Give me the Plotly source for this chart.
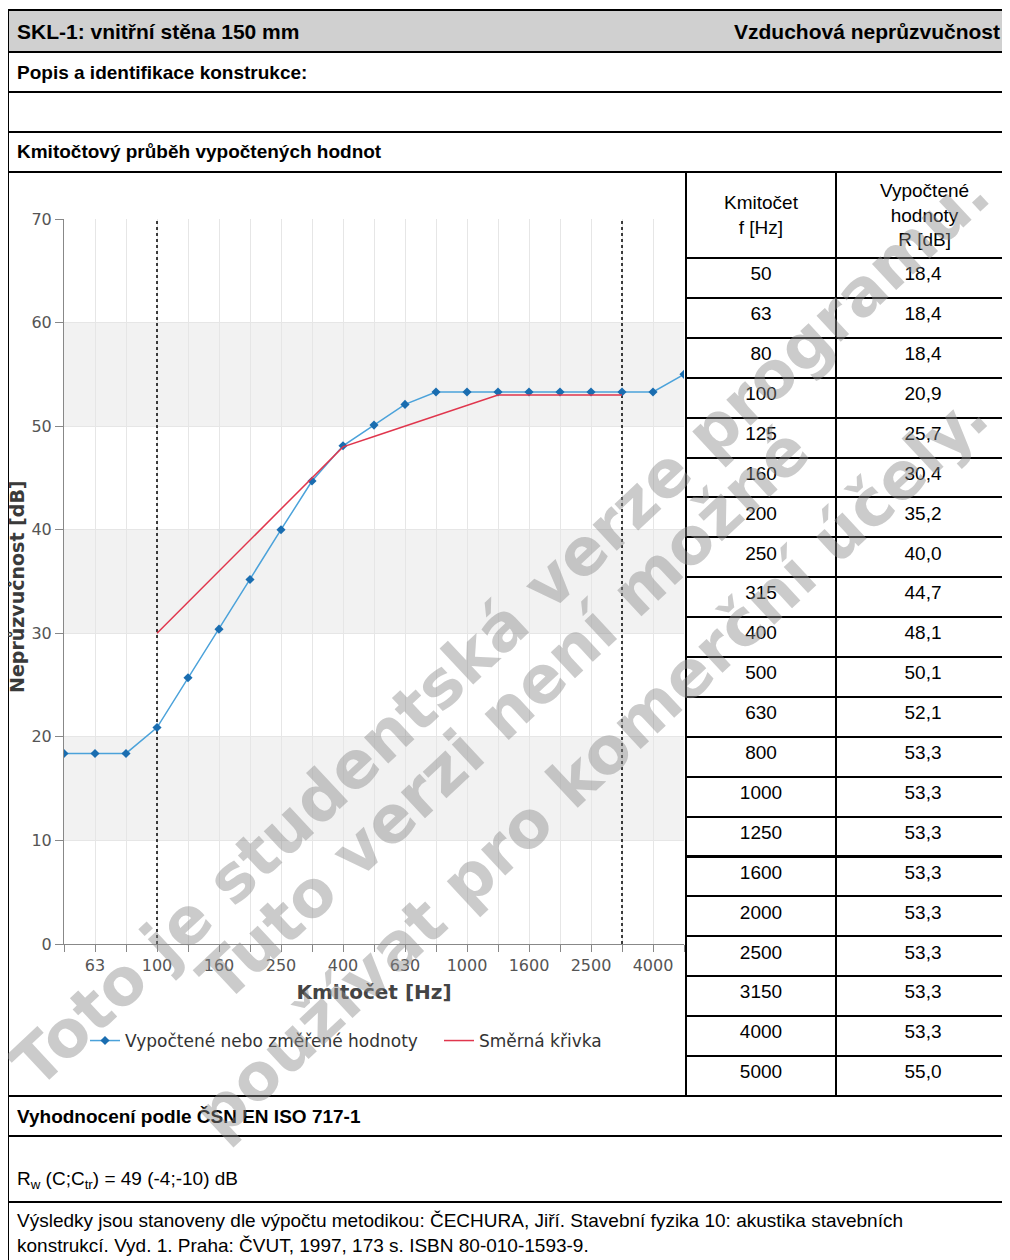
import plotly.graph_objects as go

# frequency bands and computed sound reduction index
FREQ_HZ = ['50', '63', '80', '100', '125', '160', '200', '250', '315', '400', '500',
           '630', '800', '1000', '1250', '1600', '2000', '2500', '3150', '4000', '5000']
R_DB = [18.4, 18.4, 18.4, 20.9, 25.7, 30.4, 35.2, 40.0, 44.7, 48.1, 50.1,
        52.1, 53.3, 53.3, 53.3, 53.3, 53.3, 53.3, 53.3, 53.3, 55.0]
# shifted reference curve (ISO 717-1), 100 - 3150 Hz
REF_FREQ_HZ = ['100', '125', '160', '200', '250', '315', '400', '500',
               '630', '800', '1000', '1250', '1600', '2000', '2500', '3150']
REF_DB = [30, 33, 36, 39, 42, 45, 48, 49, 50, 51, 52, 53, 53, 53, 53, 53]
LIMIT_FREQ_HZ = ['100', '3150']
X_TICK_LABELS = ['63', '100', '160', '250', '400', '630', '1000', '1600', '2500', '4000']
Y_TICKS = [0, 10, 20, 30, 40, 50, 60, 70]
RW, C, CTR = 49, -4, -10

# the page body keeps its default 8px margin, so the figure sits at (8, 8) in the window
W, H = 1002, 1252
OFF = 8
ARIAL = 'Liberation Sans, Arial, sans-serif'
DEJAVU = 'DejaVu Sans, Verdana, sans-serif'


def px(x):
    # window pixel -> paper fraction
    return (x - OFF) / W


def py(y):
    return 1 - (y - OFF) / H


fig = go.Figure()

# dotted limits of the evaluated range
for f in LIMIT_FREQ_HZ:
    fig.add_trace(go.Scatter(
        x=[f, f], y=[Y_TICKS[0], Y_TICKS[-1]], mode='lines',
        line=dict(color='black', dash='dot', width=1.5),
        showlegend=False, hoverinfo='skip'))

fig.add_trace(go.Scatter(
    x=FREQ_HZ, y=R_DB, mode='lines+markers',
    name='Vypočtené nebo změřené hodnoty',
    line=dict(color='#4ba2da', width=1.5),
    marker=dict(symbol='diamond', size=7, color='#1a6db0'),
))
fig.add_trace(go.Scatter(
    x=REF_FREQ_HZ, y=REF_DB, mode='lines',
    name='Směrná křivka',
    line=dict(color='#e0364d', width=1.5),
))

# table on the right (header texts are placed as annotations so they can be centred)
fig.add_trace(go.Table(
    domain=dict(x=[px(686), 1], y=[py(1096), py(172)]),
    columnwidth=[150, 174],
    header=dict(
        values=['', ''], height=86,
        fill_color='white', line=dict(color='black', width=2),
    ),
    cells=dict(
        values=[FREQ_HZ, [f'{v:.1f}'.replace('.', ',') for v in R_DB]],
        height=39.9, align='center',
        fill_color='white', line=dict(color='black', width=2),
        font=dict(family=ARIAL, size=19, color='black'),
    ),
))

fig.update_layout(
    width=W, height=H,
    margin=dict(l=0, r=0, t=0, b=0, autoexpand=False),
    paper_bgcolor='white', plot_bgcolor='white',
    legend=dict(orientation='h', x=px(85), y=py(1041), xanchor='left', yanchor='middle',
                entrywidth=309, entrywidthmode='pixels',
                font=dict(family=DEJAVU, size=17, color='#333'), bgcolor='rgba(0,0,0,0)'),
    xaxis=dict(
        domain=[px(64), px(684)], anchor='y',
        type='category', categoryorder='array', categoryarray=FREQ_HZ,
        range=[0, len(FREQ_HZ) - 1],
        tickvals=FREQ_HZ,
        ticktext=[f if f in X_TICK_LABELS else '' for f in FREQ_HZ],
        ticks='outside', ticklen=7, tickcolor='#888',
        showline=True, linecolor='#888', linewidth=1,
        showgrid=True, gridcolor='#e6e6e6', zeroline=False,
        tickfont=dict(family=DEJAVU, size=16, color='#555'),
        title=dict(text='<b>Kmitočet [Hz]</b>', standoff=10,
                   font=dict(family=DEJAVU, size=20, color='#444')),
    ),
    yaxis=dict(
        domain=[py(944), py(219)], anchor='x',
        range=[Y_TICKS[0], Y_TICKS[-1]], tickvals=Y_TICKS,
        ticks='outside', ticklen=8, tickcolor='#888',
        showline=True, linecolor='#888', linewidth=1,
        showgrid=True, gridcolor='#e6e6e6', zeroline=False,
        tickfont=dict(family=DEJAVU, size=16, color='#555'),
    ),
)

shapes = []
# alternating bands
for lo in Y_TICKS[1:-1:2]:
    shapes.append(dict(type='rect', xref='x domain', yref='y', x0=0, x1=1, y0=lo, y1=lo + 10,
                       fillcolor='#f2f2f2', line=dict(width=0), layer='below'))
# page frame
shapes.append(dict(type='rect', xref='paper', yref='paper', x0=px(8), x1=1, y0=py(52), y1=py(10),
                   fillcolor='#d0d0d0', line=dict(width=0), layer='below'))
for y in [10, 52, 92, 132, 172, 1096, 1136, 1202]:
    shapes.append(dict(type='line', xref='paper', yref='paper', x0=px(8), x1=1, y0=py(y), y1=py(y),
                       line=dict(color='black', width=2)))
shapes.append(dict(type='line', xref='paper', yref='paper', x0=px(8), x1=px(8), y0=0, y1=py(10),
                   line=dict(color='black', width=2)))
shapes.append(dict(type='line', xref='paper', yref='paper', x0=px(686), x1=px(686), y0=py(1096), y1=py(172),
                   line=dict(color='black', width=2)))
fig.update_layout(shapes=shapes)


def label(text, x, y, size=19, bold=True, xanchor='left', family=ARIAL):
    fig.add_annotation(
        text=f'<b>{text}</b>' if bold else text,
        xref='paper', yref='paper', x=px(x), y=py(y),
        xanchor=xanchor, yanchor='middle', align='left' if xanchor == 'left' else 'center',
        showarrow=False, font=dict(family=family, size=size, color='black'))


label('SKL-1: vnitřní stěna 150 mm', 15, 31, size=21)
label('Vzduchová neprůzvučnost', 1002, 31, size=21, xanchor='right')
label('Popis a identifikace konstrukce:', 15, 72)
label('Kmitočtový průběh vypočtených hodnot', 15, 152)
label('Vyhodnocení podle ČSN EN ISO 717-1', 15, 1116)
label(f'R<sub>w</sub> (C;C<sub>tr</sub>) = {RW} ({C};{CTR}) dB', 15, 1180, bold=False)
label('Výsledky jsou stanoveny dle výpočtu metodikou: ČECHURA, Jiří. Stavební fyzika 10: akustika stavebních'
      '<br>konstrukcí. Vyd. 1. Praha: ČVUT, 1997, 173 s. ISBN 80-010-1593-9.', 15, 1233, bold=False)
# table header
label('Kmitočet<br>f [Hz]', 761, 215, bold=False, xanchor='center')
label('Vypočtené<br>hodnoty<br>R [dB]', 924, 215, bold=False, xanchor='center')

# y axis title
fig.add_annotation(text='<b>Neprůzvučnost [dB]</b>', xref='paper', yref='paper',
                   x=px(17), y=py(587), xanchor='center', yanchor='middle',
                   textangle=-90, showarrow=False,
                   font=dict(family=DEJAVU, size=19, color='#3a3a3a'))

# watermark
for text, cx, cy in [('Toto je studentská verze programu.', 500, 628),
                     ('Tuto verzi není možné', 503, 714),
                     ('používat pro komerční účely.', 590, 765)]:
    fig.add_annotation(text=f'<b>{text}</b>', xref='paper', yref='paper',
                       x=px(cx), y=py(cy), textangle=-43, showarrow=False,
                       font=dict(family=DEJAVU, size=65, color='rgba(140,140,140,0.45)'))

fig.write_html('out.html')
